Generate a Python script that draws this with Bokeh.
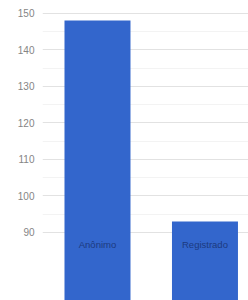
from bokeh.plotting import figure
from bokeh.models import Range1d, FixedTicker, ColumnDataSource
from bokeh.core.properties import value
from bokeh.embed import file_html
from bokeh.resources import INLINE

categories = ["Anônimo", "Registrado"]
values = [148, 93]
tick_values = [90, 100, 110, 120, 130, 140, 150]
minor_tick_values = [95, 105, 115, 125, 135, 145]
label_y = 86.8

x = list(range(len(categories)))
src = ColumnDataSource(dict(x=x, top=values, label=categories, ly=[label_y] * len(categories)))

p = figure(width=248, height=300, output_backend="svg", toolbar_location=None,
           x_range=Range1d(-0.5116, 1.405), y_range=Range1d(71.37, 153.48),
           min_border_left=42, min_border_right=0, min_border_top=0, min_border_bottom=0)
p.outline_line_color = None
p.xaxis.visible = False
p.xgrid.visible = False

p.vbar(x="x", top="top", bottom=0, width=0.614, source=src, color="#3366cc", line_color=None)
p.text(x="x", y="ly", text="label", source=src, text_align="center", text_baseline="middle",
       text_font_size="9.5px", text_color="#1c3a80", text_font=value("Liberation Sans"))

ax = p.yaxis[0]
ax.ticker = FixedTicker(ticks=tick_values, minor_ticks=minor_tick_values)
ax.axis_line_color = None
ax.major_tick_line_color = None
ax.minor_tick_line_color = None
ax.major_tick_out = 0
ax.major_tick_in = 0
ax.minor_tick_out = 0
ax.minor_tick_in = 0
ax.major_label_standoff = 8
ax.major_label_text_font = "Liberation Sans"
ax.major_label_text_font_size = "10px"
ax.major_label_text_color = "#858585"

p.ygrid.grid_line_color = "#e2e2e2"
p.ygrid.minor_grid_line_color = "#f3f3f3"
p.ygrid.level = "underlay"

open("out.html", "w").write(file_html(p, INLINE))
